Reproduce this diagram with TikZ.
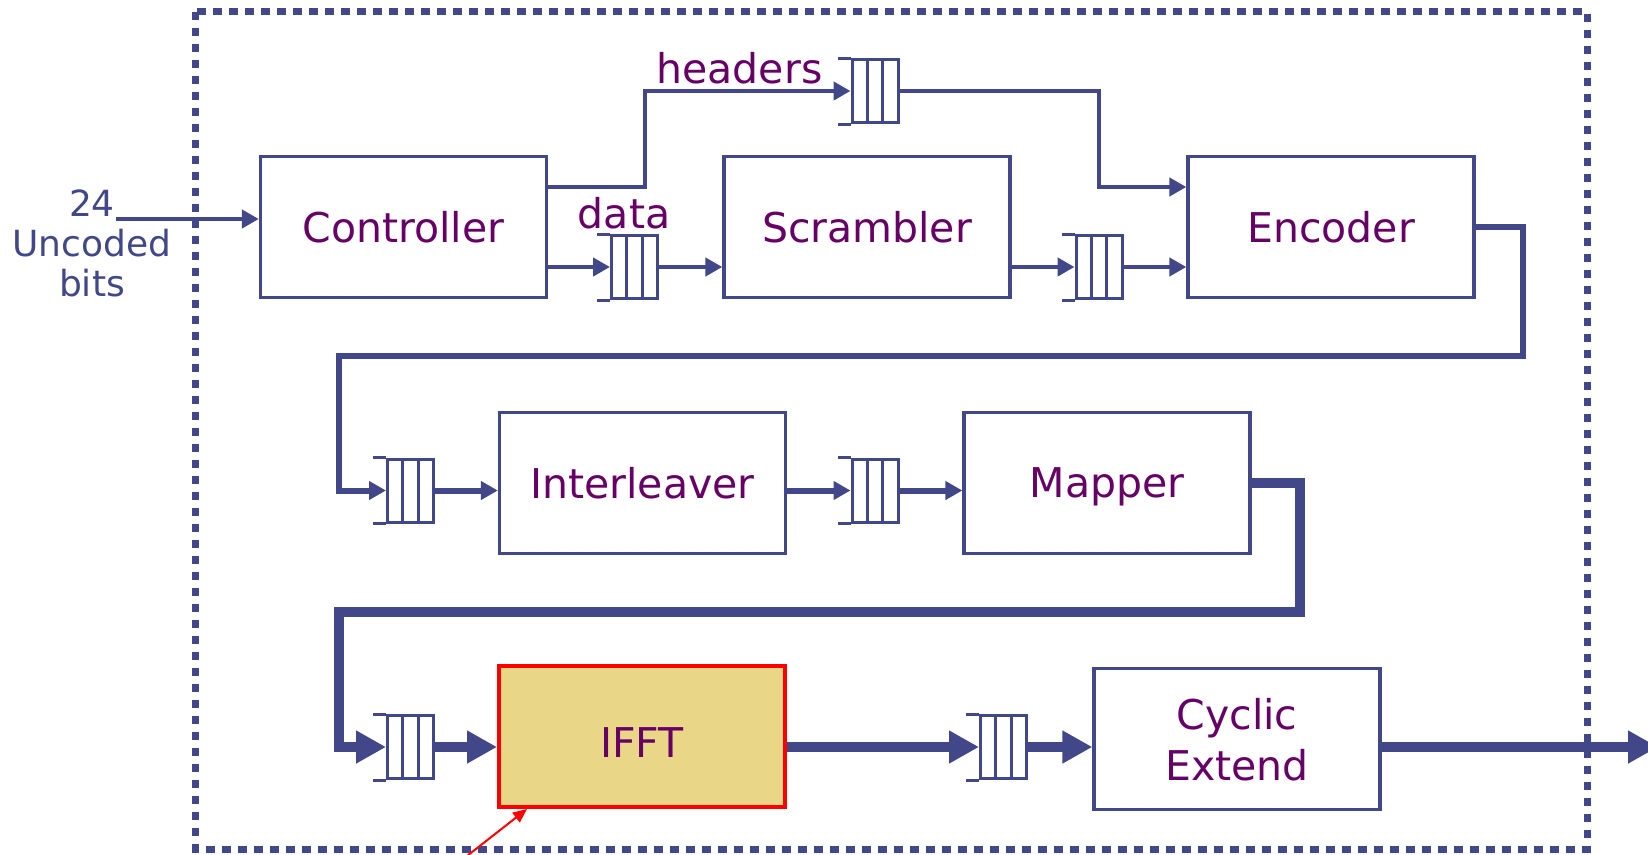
\documentclass[tikz,border=0pt]{standalone}
\usepackage{fontspec}
\setmainfont{DejaVu Sans}
\usetikzlibrary{arrows.meta,calc}
\definecolor{lineblue}{HTML}{414788}
\definecolor{txtpurple}{HTML}{660066}
\definecolor{ifftfill}{HTML}{E9D686}
\tikzset{
  block/.style={draw=lineblue,line width=3.3pt,minimum width=286pt,minimum height=141pt,inner sep=0pt,text=txtpurple,font=\fontsize{41}{51}\selectfont,align=center,text depth=0pt},
  fifo/.style={draw=lineblue,line width=3pt,minimum width=46pt,minimum height=63pt,inner sep=0pt,
    path picture={\foreach \k in {1,2} \draw[lineblue,line width=3pt] ([xshift=\k*15.33pt]path picture bounding box.south west) -- ([xshift=\k*15.33pt]path picture bounding box.north west);}},
  lbl/.style={text=txtpurple,font=\fontsize{41}{51}\selectfont,inner sep=0pt,anchor=base},
  wire1/.style={lineblue,line width=4.5pt,-{Triangle[length=17pt,width=18pt]}},
  wire2/.style={lineblue,line width=6pt,-{Triangle[length=17pt,width=18pt]}},
  wire3/.style={lineblue,line width=10pt,-{Triangle[length=30pt,width=31pt]}}
}
\begin{document}
\begin{tikzpicture}[x=1pt,y=-1pt]
      \useasboundingbox (0,0) rectangle (1648,854);
      \draw[lineblue,line width=7pt,dash pattern=on 8.5pt off 7.5pt] (195.5,11.5) rectangle (1587,849);
      \node[block] (ctrl) at (403.5,227) {Controller};
      \node[block] (scr) at (867,227) {Scrambler};
      \node[block] (enc) at (1331,227) {Encoder};
      \node[block] (il) at (642.5,483) {Interleaver};
      \node[block] (map) at (1107,483) {Mapper};
      \node[block,draw=red,line width=4pt,fill=ifftfill,text height=41pt] (ifft) at (642,736.5) {IFFT};
      \node[block] (cyc) at (1237,739) {Cyclic\\Extend};
      \node[fifo] (fh) at (875,91) {};
      \node[fifo] (fd) at (634.5,267) {};
      \node[fifo] (fs) at (1099,267) {};
      \node[fifo] (fi) at (410.5,490.5) {};
      \node[fifo] (fm) at (875,490.5) {};
      \node[fifo] (fr) at (410.5,747) {};
      \node[fifo] (fo) at (1003.5,747) {};
      \foreach \f in {fh,fd,fs,fi,fm,fr,fo}
        \draw[lineblue,line width=3pt] (\f.north west) -- ++(-13,0) (\f.south west) -- ++(-13,0);
      \node[lbl] (hd) at (739.5,83) {headers};
      \node[lbl] (dt) at (624,228) {data};
      \node[text=lineblue,font=\fontsize{36}{40}\selectfont,align=center,inner sep=0pt] (inlbl) at (92,243.5) {24\\Uncoded\\bits};
      \coordinate (in) at (116,219);
      \coordinate (out) at (1658,747);
      \draw[wire1] (in) -- (in -| ctrl.west);
      \draw[wire1] (ctrl.east |- 0,187) -- (645,187) |- (fh.west);
      \draw[wire1] (ctrl.east |- fd.west) -- (fd.west);
      \draw[wire1] (fd.east) -- (fd.east -| scr.west);
      \draw[wire1] (fh.east) -| (1099,187) -- (enc.west |- 0,187);
      \draw[wire1] (scr.east |- fs.west) -- (fs.west);
      \draw[wire1] (fs.east) -- (fs.east -| enc.west);
      \draw[wire2] (enc.east) -- (1523,227) |- (339,356) |- (fi.west);
      \draw[wire2] (fi.east) -- (fi.east -| il.west);
      \draw[wire2] (il.east |- fm.west) -- (fm.west);
      \draw[wire2] (fm.east) -- (fm.east -| map.west);
      \draw[wire3] (map.east) -| (1300,612) -| (339,747) -- (fr.west);
      \draw[wire3] (fr.east) -- (fr.east -| ifft.west);
      \draw[wire3] (ifft.east |- fo.west) -- (fo.west);
      \draw[wire3] (fo.east) -- (fo.east -| cyc.west);
      \draw[wire3] (cyc.east |- fo.west) -- (out);
      \coordinate (note) at (458,863);
      \draw[red,line width=2pt,-{Triangle[length=14pt,width=12pt]}] (note) -- ($(ifft.south west)+(30,0)$);
    \end{tikzpicture}
\end{document}
